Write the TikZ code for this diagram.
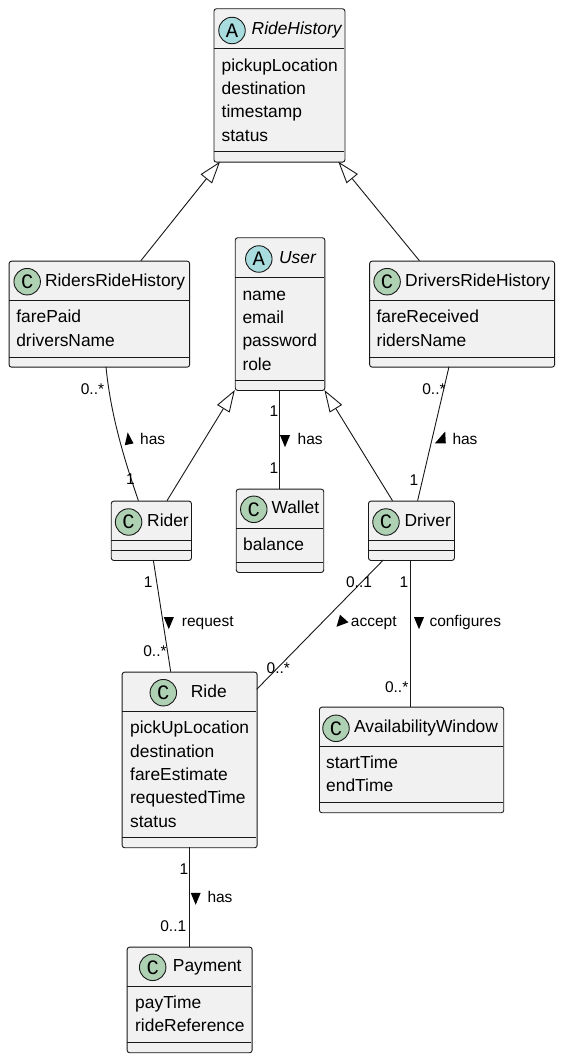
\documentclass[tikz,border=0pt]{standalone}
\usepackage{fontspec}
\setmainfont{Liberation Sans}
\newfontfamily\cfont{Liberation Mono}
\usetikzlibrary{arrows.meta}
\definecolor{boxfill}{HTML}{F1F1F1}
\definecolor{boxline}{HTML}{181818}
\definecolor{cgreen}{HTML}{ADD1B2}
\definecolor{acyan}{HTML}{A9DCDF}
\tikzset{
  classbox/.style={draw=boxline, fill=boxfill, line width=0.9pt, rounded corners=2.5pt, inner sep=0pt, anchor=north west},
  sepline/.style={draw=boxline, line width=0.8pt},
  circ/.style={circle, draw=boxline, line width=0.9pt, minimum size=26.5pt, inner sep=0pt, font=\cfont\fontsize{20.5}{20}\selectfont},
  ttl/.style={anchor=west, inner sep=0pt, text height=12.5pt, text depth=3.5pt, font=\fontsize{17.4}{20}\selectfont},
  attr/.style={anchor=west, inner sep=0pt, text height=12.5pt, text depth=3.5pt, font=\fontsize{17.4}{20}\selectfont},
  lbl/.style={inner sep=0pt, text height=11pt, text depth=3pt, font=\fontsize{15.5}{18}\selectfont},
  conn/.style={draw=boxline, line width=0.9pt},
  inherit/.style={conn, -{Triangle[open, length=22pt, width=14.5pt]}},
  dirmark/.style={fill=black},
}
\newcommand{\umlbox}[7]{%
  \node[classbox, minimum width={#4-#2}, minimum height={#5-#3}] (#1) at (#2,#3) {};
  \draw[sepline] (#2+0.5,#6) -- (#4-0.5,#6);
  \draw[sepline] (#2+0.5,#7) -- (#4-0.5,#7);
}
% downward direction triangle centred at (#1,#2)
\newcommand{\downtri}[2]{%
  \fill[dirmark] ({#1},{#2+6.5}) -- ({#1-5},{#2-5.5}) -- ({#1+5},{#2-5.5}) -- cycle;
}
\begin{document}
\begin{tikzpicture}[x=1pt,y=-1pt]
\useasboundingbox (0,0) rectangle (562,1060);
\fill[white] (0,0) rectangle (562,1060);

% ---------- classes ----------
% RideHistory
\umlbox{rh}{213.5}{8.3}{344.5}{161.7}{48.3}{151.7}
\node[circ, fill=acyan] (rhc) at (232,30.5) {A};
\node[ttl] (rht) at (251.5,30) {\itshape RideHistory};
\node[attr] (rh1) at (221.5,66.7) {pickupLocation};
\node[attr] (rh2) at (221.5,90) {destination};
\node[attr] (rh3) at (221.5,113.3) {timestamp};
\node[attr] (rh4) at (221.5,136.7) {status};

% User
\umlbox{user}{234.8}{237.3}{324.4}{390}{277.3}{380.7}
\node[circ, fill=acyan] (userc) at (258.8,259) {A};
\node[ttl] (usert) at (278.9,259) {\itshape User};
\node[attr] (user1) at (242.3,295.7) {name};
\node[attr] (user2) at (242.3,319) {email};
\node[attr] (user3) at (242.3,342.3) {password};
\node[attr] (user4) at (242.3,365.6) {role};

% RidersRideHistory
\umlbox{rrh}{8.6}{260.7}{189.2}{366.7}{300.7}{357.3}
\node[circ, fill=cgreen] (rrhc) at (27.2,281.7) {C};
\node[ttl] (rrht) at (44.8,281.7) {RidersRideHistory};
\node[attr] (rrh1) at (16.1,318.3) {farePaid};
\node[attr] (rrh2) at (16.1,341.7) {driversName};

% DriversRideHistory
\umlbox{drh}{369.2}{260.7}{554.1}{366.7}{300.7}{357.3}
\node[circ, fill=cgreen] (drhc) at (387.1,281.7) {C};
\node[ttl] (drht) at (405,281.7) {DriversRideHistory};
\node[attr] (drh1) at (376.3,318.3) {fareReceived};
\node[attr] (drh2) at (376.3,341.7) {ridersName};

% Rider
\umlbox{rider}{110.8}{500.7}{191}{560}{540.7}{550.7}
\node[circ, fill=cgreen] (riderc) at (128.6,522) {C};
\node[ttl] (ridert) at (147,521.7) {Rider};

% Wallet
\umlbox{wallet}{235.8}{488.7}{323.3}{572}{528.7}{562}
\node[circ, fill=cgreen] (walletc) at (253.8,509.3) {C};
\node[ttl] (wallett) at (271.3,509.3) {Wallet};
\node[attr] (wallet1) at (243,546) {balance};

% Driver
\umlbox{driver}{368}{500.7}{454}{560}{540.7}{550.7}
\node[circ, fill=cgreen] (driverc) at (386,522) {C};
\node[ttl] (drivert) at (404.3,521.7) {Driver};

% Ride
\umlbox{ride}{121.7}{671.7}{256.7}{847.3}{711}{837.3}
\node[circ, fill=cgreen] (ridec) at (163.3,692.7) {C};
\node[ttl] (ridet) at (190.7,692.7) {Ride};
\node[attr] (ride1) at (130,729.3) {pickUpLocation};
\node[attr] (ride2) at (130,752.7) {destination};
\node[attr] (ride3) at (130,776) {fareEstimate};
\node[attr] (ride4) at (130,799.3) {requestedTime};
\node[attr] (ride5) at (130,822.7) {status};

% AvailabilityWindow
\umlbox{aw}{319}{706.7}{503.3}{812.3}{746.7}{802.7}
\node[circ, fill=cgreen] (awc) at (336,728.3) {C};
\node[ttl] (awt) at (354,728.3) {AvailabilityWindow};
\node[attr] (aw1) at (326,764) {startTime};
\node[attr] (aw2) at (326,787.3) {endTime};

% Payment
\umlbox{pay}{126.7}{946.7}{251.7}{1052.3}{986}{1042.3}
\node[circ, fill=cgreen] (payc) at (152.7,967.3) {C};
\node[ttl] (payt) at (172.7,967.3) {Payment};
\node[attr] (pay1) at (135,1004) {payTime};
\node[attr] (pay2) at (135,1027.3) {rideReference};

% ---------- attachment points ----------
\coordinate (rrhN) at (140.9,260.7);
\coordinate (rhSW) at (220,161.7);
\coordinate (drhN) at (419.4,260.7);
\coordinate (rhSE) at (338.3,161.7);
\coordinate (riderN1) at (167,500.7);
\coordinate (userSW) at (234.8,390);
\coordinate (driverN1) at (392.5,500.7);
\coordinate (userSE) at (324.4,390);
\coordinate (rrhS) at (106,366.7);
\coordinate (riderN2) at (138.4,500.7);
\coordinate (userS) at (279.2,390);
\coordinate (walletN) at (279.2,488.7);
\coordinate (drhS) at (449,366.7);
\coordinate (driverN2) at (417.6,500.7);
\coordinate (riderS) at (153.3,560);
\coordinate (rideN) at (170.7,671.7);
\coordinate (driverS1) at (383.3,560);
\coordinate (rideE) at (256.7,689.3);
\coordinate (driverS2) at (410.7,560);
\coordinate (awN) at (410.7,706.7);
\coordinate (rideS) at (189.3,847.3);
\coordinate (payN) at (189.3,946.7);

% ---------- connectors ----------
\draw[inherit] (rrhN) -- (rhSW);
\draw[inherit] (drhN) -- (rhSE);
\draw[inherit] (riderN1) -- (userSW);
\draw[inherit] (driverN1) -- (userSE);
\draw[conn] (rrhS) .. controls (111,420) and (128,470) .. (riderN2);
\draw[conn] (userS) -- (walletN);
\draw[conn] (drhS) -- (driverN2);
\draw[conn] (riderS) -- (rideN);
\draw[conn] (driverS1) -- (rideE);
\draw[conn] (driverS2) -- (awN);
\draw[conn] (rideS) -- (payN);

% ---------- labels ----------
% Riders - Rider
\node[lbl] (l1a) at (92.5,390) {0..*};
\node[lbl] (l1b) at (130.5,480) {1};
\fill[dirmark] (127.7,432.3) -- (124.8,445.2) -- (133.5,443.4) -- cycle;
\node[lbl, anchor=west] (l1c) at (140,440.7) {has};
% User - Wallet
\node[lbl] (l2a) at (274,412.7) {1};
\node[lbl] (l2b) at (274,469.3) {1};
\downtri{285}{440.7}
\node[lbl, anchor=west] (l2c) at (297.5,440.7) {has};
% Drivers - Driver
\node[lbl] (l3a) at (434,390) {0..*};
\node[lbl] (l3b) at (414,481) {1};
\fill[dirmark] (445.2,431.5) -- (434.8,443.4) -- (445.8,443.4) -- cycle;
\node[lbl, anchor=west] (l3c) at (452.3,440.7) {has};
% Rider - Ride
\node[lbl] (l4a) at (148.3,583.3) {1};
\node[lbl] (l4b) at (155,652) {0..*};
\downtri{168.8}{622.7}
\node[lbl, anchor=west] (l4c) at (181.7,622.7) {request};
% Driver - Ride
\node[lbl] (l5a) at (359,583) {0..1};
\node[lbl] (l5b) at (278.3,669) {0..*};
\fill[dirmark] (340,614.8) -- (336.5,626.8) -- (348.5,622.3) -- cycle;
\node[lbl, anchor=west] (l5c) at (350.7,622.7) {accept};
% Driver - AvailabilityWindow
\node[lbl] (l6a) at (404,583) {1};
\node[lbl] (l6b) at (396.7,688) {0..*};
\downtri{419}{622.7}
\node[lbl, anchor=west] (l6c) at (429.3,622.7) {configures};
% Ride - Payment
\node[lbl] (l7a) at (184,870) {1};
\node[lbl] (l7b) at (173.3,927.3) {0..1};
\downtri{195.7}{898.3}
\node[lbl, anchor=west] (l7c) at (207.3,898.3) {has};
\end{tikzpicture}
\end{document}
